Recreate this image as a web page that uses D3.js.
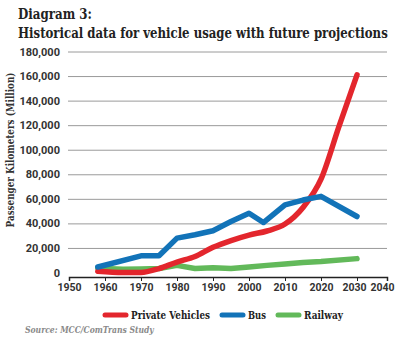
<!DOCTYPE html>
<html>
<head>
<meta charset="utf-8">
<script src="https://cdn.jsdelivr.net/npm/d3@7"></script>
<style>
  body { margin: 0; background: #fff; }
  svg { display: block; }
</style>
</head>
<body>
<svg id="chart" width="400" height="340"></svg>
<script>
// data
var years = [1958, 1965, 1970, 1975, 1980, 1985, 1990, 1995, 2000, 2005, 2010, 2015, 2020, 2025, 2030];
var privateVehicles = [1000, 0, 0, 3200, 8500, 13000, 20500, 26000, 30500, 33800, 39500, 53000, 76000, 119000, 161000];
var busYears = [1958, 1970, 1975, 1980, 1985, 1990, 1995, 2000, 2004, 2010, 2015, 2020, 2030];
var bus = [4500, 13600, 13600, 28000, 30700, 34000, 41500, 48300, 40700, 55100, 59000, 62000, 45600];
var railYears = [1958, 1965, 1970, 1975, 1980, 1985, 1990, 1995, 2000, 2005, 2010, 2015, 2020, 2030];
var railway = [3500, 2600, 2800, 3200, 5800, 3200, 3800, 3300, 4500, 5800, 7000, 8200, 9000, 11300];

var seriesNames = ["Private Vehicles", "Bus", "Railway"];
var seriesColors = ["#e3262d", "#1273b8", "#62b95a"];
var xTicks = [1950, 1960, 1970, 1980, 1990, 2000, 2010, 2020, 2030, 2040];
var yTicks = [0, 20000, 40000, 60000, 80000, 100000, 120000, 140000, 160000, 180000];

var svg = d3.select("#chart");

var left = 68, right = 387;
// last decade is squeezed in the original picture
var x = d3.scaleLinear().domain([1950, 2030, 2040]).range([69, 357, right]);
var y = d3.scaleLinear().domain([0, 180000]).range([272.5, 51.5]);

// squeeze a text horizontally so it covers the wanted width (slab font is wider than the original)
function fitText(sel, px, py, width) {
    var w = sel.node().getComputedTextLength();
    var s = Math.min(1, width / w);
    sel.attr("x", 0).attr("y", 0)
        .attr("transform", "translate(" + px + "," + py + ") scale(" + s + ",1)");
}

// titles
var title = svg.append("g")
    .style("font-family", "'DejaVu Serif', serif")
    .style("font-weight", "bold")
    .style("fill", "#222");
fitText(title.append("text").style("font-size", "14px").text("Diagram 3:"), 18, 19, 74);
fitText(title.append("text").style("font-size", "14px")
    .text("Historical data for vehicle usage with future projections"), 18, 38, 370);

// y grid + labels
var yAxis = svg.append("g")
    .attr("transform", "translate(" + left + ",0)")
    .call(d3.axisLeft(y).tickValues(yTicks).tickSize(-(right - left)).tickPadding(8)
        .tickFormat(d3.format(",")));
yAxis.select(".domain").remove();
yAxis.selectAll(".tick line").attr("stroke", "#9a9a9a").attr("stroke-width", 1)
    .filter(function (d) { return d === 0; }).remove();
yAxis.selectAll(".tick text")
    .style("font-family", "Roboto, sans-serif").style("font-weight", "bold")
    .style("font-size", "11px").style("fill", "#333");

// y title
var yTitle = svg.append("text")
    .attr("text-anchor", "middle")
    .style("font-family", "'DejaVu Serif', serif").style("font-weight", "bold")
    .style("font-size", "11px").style("fill", "#333")
    .text("Passenger Kilometers (Million)");
var yw = yTitle.node().getComputedTextLength();
yTitle.attr("transform", "translate(14,150) rotate(-90) scale(" + Math.min(1, 155 / yw) + ",1)");

// x axis
var xAxis = svg.append("g")
    .attr("transform", "translate(0,277)")
    .call(d3.axisBottom(x).tickValues(xTicks).tickSize(4).tickPadding(3).tickFormat(d3.format("d")));
xAxis.select(".domain").attr("stroke", "#222").attr("stroke-width", 1.5);
xAxis.selectAll(".tick line").attr("stroke", "#222");
xAxis.selectAll(".tick text")
    .style("font-family", "Roboto, sans-serif").style("font-weight", "bold")
    .style("font-size", "10.5px").style("fill", "#333");
// the last two labels sit tight together in the original
xAxis.selectAll(".tick text").filter(function (d) { return d === 2030; }).attr("dx", "-3");
xAxis.selectAll(".tick text").filter(function (d) { return d === 2040; }).attr("dx", "-5");

// lines
var lineData = [
    years.map(function (yr, i) { return [yr, privateVehicles[i]]; }),
    busYears.map(function (yr, i) { return [yr, bus[i]]; }),
    railYears.map(function (yr, i) { return [yr, railway[i]]; })
];
var curves = [d3.curveMonotoneX, d3.curveLinear, d3.curveLinear];

// railway first, then private, then bus on top like the picture
[2, 0, 1].forEach(function (k) {
    var line = d3.line()
        .x(function (d) { return x(d[0]); })
        .y(function (d) { return y(d[1]); })
        .curve(curves[k]);
    svg.append("path")
        .datum(lineData[k])
        .attr("d", line)
        .attr("fill", "none")
        .attr("stroke", seriesColors[k])
        .attr("stroke-width", 5.5)
        .attr("stroke-linecap", "round")
        .attr("stroke-linejoin", "round");
});

// legend
var legendWidths = [79, 18, 39];
var lx = 103;
seriesNames.forEach(function (name, i) {
    var g = svg.append("g").attr("transform", "translate(" + lx + ",315)");
    g.append("line").attr("x1", 2).attr("x2", 23).attr("y1", 0).attr("y2", 0)
        .attr("stroke", seriesColors[i]).attr("stroke-width", 5).attr("stroke-linecap", "round");
    var t = g.append("text")
        .style("font-family", "'DejaVu Serif', serif").style("font-weight", "bold")
        .style("font-size", "11px").style("fill", "#222")
        .text(name);
    fitText(t, 28, 4, legendWidths[i]);
    lx += 28 + legendWidths[i] + 10;
});

// source
var src = svg.append("text")
    .style("font-family", "'DejaVu Serif', serif").style("font-weight", "bold")
    .style("font-style", "italic").style("font-size", "9.5px").style("fill", "#8a8a8a")
    .text("Source: MCC/ComTrans Study");
fitText(src, 25, 333, 129);
</script>
</body>
</html>
